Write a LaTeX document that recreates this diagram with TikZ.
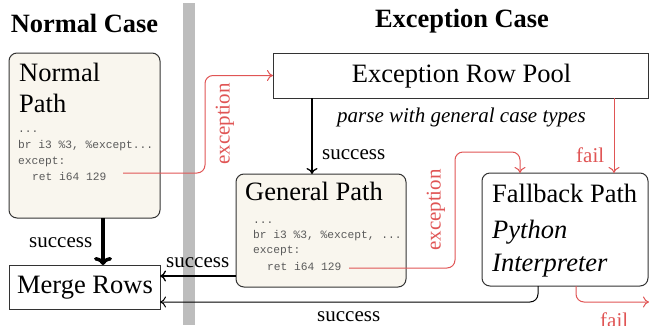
\documentclass[tikz,border=0pt]{standalone}
\usepackage{fontspec}
\setmainfont{Liberation Serif}
\setmonofont{Liberation Mono}
\usetikzlibrary{arrows.meta}
\definecolor{exred}{HTML}{E05555}
\definecolor{pathfill}{HTML}{F9F6EE}
\definecolor{codegray}{HTML}{5A5A5A}
\definecolor{barfill}{HTML}{BDBDBD}
\definecolor{border}{HTML}{333333}
\tikzset{
  pathbox/.style={draw=border, line width=1pt, fill=pathfill, rounded corners=8pt,
    anchor=north west, inner sep=0pt, outer sep=0pt},
  plainbox/.style={draw=border, line width=1pt, fill=white, rounded corners=8pt,
    anchor=north west, inner sep=0pt, outer sep=0pt},
  rowbox/.style={draw=border, line width=1pt, fill=white,
    anchor=north west, inner sep=0pt, outer sep=0pt},
  bigtext/.style={font=\fontsize{26.5}{30}\selectfont, inner sep=0pt, anchor=base west},
  titletext/.style={font=\fontsize{26.4}{30}\selectfont\bfseries, inner sep=0pt, anchor=base},
  lbl/.style={font=\fontsize{21}{24}\selectfont, inner sep=0pt, anchor=base west},
  redlbl/.style={lbl, text=exred},
  code/.style={font=\fontsize{11.25}{13}\ttfamily, text=codegray, inner sep=0pt, anchor=base west},
  flow/.style={line width=1.3pt, -{To[length=6pt,width=11pt]}},
  bigflow/.style={line width=3.5pt, -{To[length=8pt,width=18pt]}},
  thinflow/.style={line width=1pt, -{To[length=6pt,width=11pt]}},
  exflow/.style={draw=exred, line width=1pt, rounded corners=8pt, -{To[length=6pt,width=11pt]}},
}
\begin{document}
\begin{tikzpicture}[x=1pt, y=-1pt]
\useasboundingbox (0,0) rectangle (649,325);

% divider between the two halves
\fill[barfill] (183,3) rectangle (195,325);

% headings
\node[titletext] (tnormal) at (84.5,32) {Normal Case};
\node[titletext] (texcept) at (462,27) {Exception Case};

% boxes
\node[pathbox, minimum width=151pt, minimum height=165pt] (np) at (9,53) {};
\node[rowbox, minimum width=151pt, minimum height=44pt] (mr) at (9,265) {};
\node[rowbox, minimum width=375pt, minimum height=45pt] (erp) at (273,53) {};
\node[pathbox, minimum width=170pt, minimum height=113pt] (gp) at (236,174) {};
\node[plainbox, minimum width=166pt, minimum height=113pt] (fb) at (482,173) {};

% normal path contents
\node[bigtext] (npa) at (19,81) {Normal};
\node[bigtext] (npb) at (19,112) {Path};
\node[code] (npc1) at (18,132) {...};
\node[code] (npc2) at (18,148) {br i3 \%3, \%except...};
\node[code] (npc3) at (18,164) {except:};
\node[code] (npc4) at (32,180) {ret i64 129};

% merge rows and exception row pool
\node[bigtext, anchor=base] (mrt) at (85,293) {Merge Rows};
\node[bigtext, anchor=base] (erpt) at (461.5,82) {Exception Row Pool};
\node[lbl, font=\fontsize{21}{24}\selectfont\itshape] (parse) at (337,122) {parse with general case types};

% general path contents
\node[bigtext] (gpt) at (245,200) {General Path};
\node[code] (gpc1) at (253,223) {...};
\node[code] (gpc2) at (253,238) {br i3 \%3, \%except, ...};
\node[code] (gpc3) at (253,253) {except:};
\node[code] (gpc4) at (267,270) {ret i64 129};

% fallback path contents
\node[bigtext] (fbt) at (492,202) {Fallback Path};
\node[bigtext, font=\fontsize{26.5}{30}\selectfont\itshape] (fbp) at (492,238) {Python};
\node[bigtext, font=\fontsize{26.5}{30}\selectfont\itshape] (fbi) at (492,271) {Interpreter};

% helper coordinates for connector routing
\coordinate (xnm) at (103,0);
\coordinate (xgp) at (312,0);
\coordinate (xfl) at (614,0);
\coordinate (ygm) at (0,276);
\coordinate (xsb) at (538,0);
\coordinate (ylow) at (0,302);
\coordinate (xfb) at (576,0);
\coordinate (failend) at (649,302);
\coordinate (e1s) at (123,173);
\coordinate (c1) at (205,75.5);
\coordinate (e2s) at (349,268);
\coordinate (c2) at (455,152);
\coordinate (xfin) at (520,0);

% success connectors
\draw[bigflow] (np.south -| xnm) -- (mr.north -| xnm);
\draw[flow] (erp.south -| xgp) -- (gp.north -| xgp);
\draw[flow] (gp.west |- ygm) -- (mr.east |- ygm);
\draw[thinflow, rounded corners=8pt] (fb.south -| xsb) |- (mr.east |- ylow);

% exception / failure connectors
\draw[exflow] (e1s) -| (c1) -- (erp.west);
\draw[exflow] (e2s) -| (c2) -| (fb.north -| xfin);
\draw[exflow] (erp.south -| xfl) -- (fb.north -| xfl);
\draw[exflow] (fb.south -| xfb) |- (failend);

% connector labels
\node[lbl] (s1) at (29,247) {success};
\node[lbl] (s2) at (322,159) {success};
\node[lbl] (s3) at (166,267) {success};
\node[lbl] (s4) at (317,321) {success};
\node[redlbl] (f1) at (576,162) {fail};
\node[redlbl] (f2) at (600,327) {fail};
\node[redlbl, anchor=center, rotate=90] (ex1) at (225,124) {exception};
\node[redlbl, anchor=center, rotate=90] (ex2) at (436,210) {exception};
\end{tikzpicture}
\end{document}
